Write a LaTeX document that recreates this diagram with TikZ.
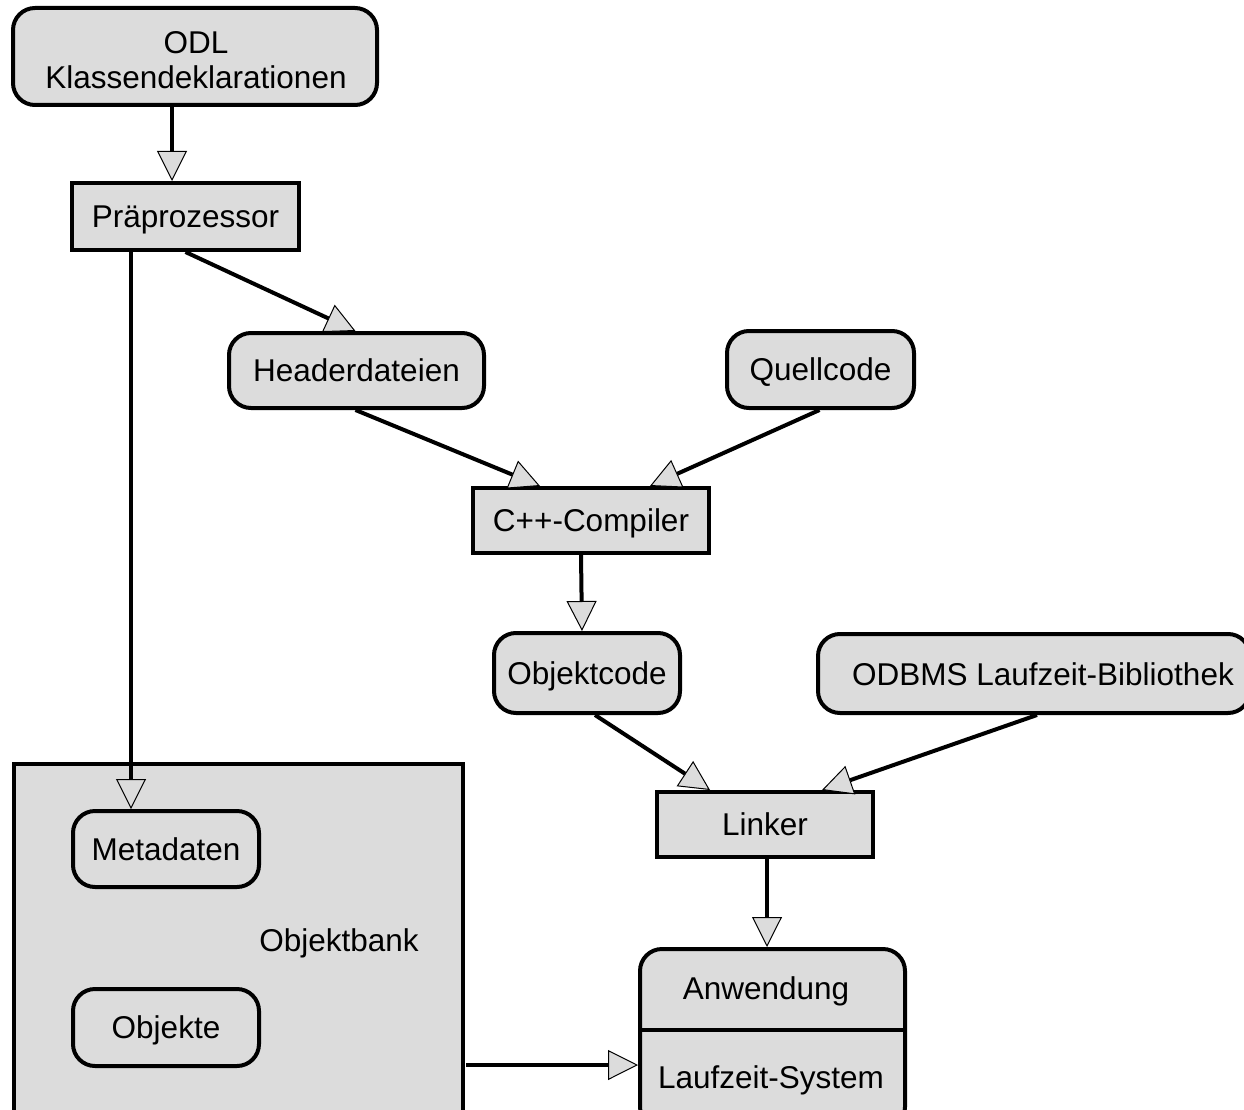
\documentclass[tikz,border=0pt]{standalone}
\usepackage{fontspec}
\setmainfont{Liberation Sans}
\usetikzlibrary{arrows.meta}
\definecolor{boxgray}{HTML}{DCDCDC}
\tikzset{
  every node/.style={font=\fontsize{31.5}{35}\selectfont, inner sep=0pt, align=center, text height=22.5pt, text depth=0pt},
  rbox/.style={draw, line width=4pt, fill=boxgray, rounded corners=22pt, minimum height=#1},
  rbox/.default=76pt,
  sbox/.style={draw, line width=4pt, fill=boxgray, minimum height=66pt},
  arr/.style={line width=4pt, -{Triangle[length=30pt, width=30pt, fill=boxgray, line width=1pt]}},
}
\begin{document}
\begin{tikzpicture}[x=1pt, y=-1pt]
\useasboundingbox (0,0) rectangle (1244,1110);
\clip (0,0) rectangle (1244,1110);
% Objektbank container
\node[draw, line width=4pt, fill=boxgray, minimum width=449pt, minimum height=380pt, anchor=north west] (bank) at (12,762) {};
\node (banklbl) at (339,940) {Objektbank};
% Nodes
\node[rbox=97pt, minimum width=364pt] (odl) at (195,56.5) {};
\node (odltxt) at (196,42) {ODL};
\node (odltxt2) at (196,77) {Klassendeklarationen};
\node[sbox, minimum width=227pt, minimum height=67pt] (prae) at (185.5,216.5) {Präprozessor};
\node[rbox=75pt, minimum width=255pt] (hdr) at (356.5,370.5) {Headerdateien};
\node[rbox=77pt, minimum width=187pt] (quell) at (820.5,369.5) {Quellcode};
\node[sbox, minimum width=236pt, minimum height=65pt] (cpp) at (591,520.5) {C++-Compiler};
\node[rbox=80pt, minimum width=186pt] (obj) at (587,673) {Objektcode};
\node[rbox=79pt, minimum width=432pt] (odbms) at (1034,673.5) {};
\node (odbmslbl) at (1043,674) {ODBMS Laufzeit-Bibliothek};
\node[sbox, minimum width=216pt, minimum height=65pt] (linker) at (765,824.5) {Linker};
\node[rbox=76pt, minimum width=186pt] (meta) at (166,849) {Metadaten};
\node[rbox=77pt, minimum width=186pt] (objekte) at (166,1027.5) {Objekte};
% Anwendung / Laufzeit-System
\node[rbox=180pt, minimum width=265pt, anchor=north] (anw) at (772.5,947) {};
\draw[line width=4pt] (anw.west |- 0,1030) coordinate (divl) -- (anw.east |- 0,1030) coordinate (divr);
\node (anwlbl) at (766,988) {Anwendung};
\node (lzs) at (771,1077) {Laufzeit-System};
% Connectors
\coordinate (bankout) at (466,1065);
\draw[arr] ([xshift=-23]odl.south) -- ([xshift=-13.5]prae.north);
\draw[arr] ([xshift=-54.5]prae.south) -- ([xshift=-35]meta.north);
\draw[arr] (prae.south) -- ([xshift=-1]hdr.north);
\draw[arr] ([xshift=-1]hdr.south) -- ([xshift=-51]cpp.north);
\draw[arr] ([xshift=-1]quell.south) -- ([xshift=59]cpp.north);
\draw[arr] ([xshift=-10]cpp.south) -- ([xshift=-5]obj.north);
\draw[arr] ([xshift=8]obj.south) -- ([xshift=-55]linker.north);
\draw[arr] ([xshift=3]odbms.south) -- ([xshift=57]linker.north);
\draw[arr] ([xshift=2]linker.south) -- ([xshift=-5.5]anw.north);
\draw[arr] (bankout) -- (anw.west |- bankout);
\end{tikzpicture}
\end{document}
